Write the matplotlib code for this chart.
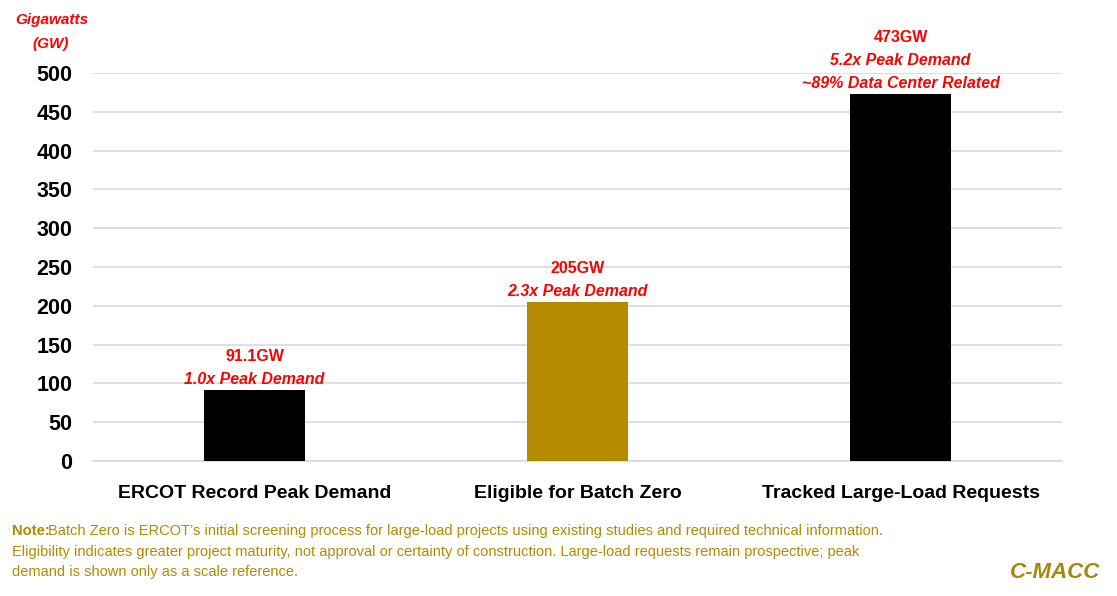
import matplotlib
matplotlib.use("Agg")
import matplotlib.pyplot as plt

# data
categories = ["ERCOT Record Peak Demand", "Eligible for Batch Zero", "Tracked Large-Load Requests"]
values = [91.1, 205, 473]
value_labels = ["91.1GW", "205GW", "473GW"]
notes = [["1.0x Peak Demand"], ["2.3x Peak Demand"], ["5.2x Peak Demand", "~89% Data Center Related"]]
bar_colors = ["#000000", "#B38A00", "#000000"]
yticks = [0, 50, 100, 150, 200, 250, 300, 350, 400, 450, 500]

plt.rcParams['font.family'] = ['Liberation Sans', 'DejaVu Sans']

fig = plt.figure(figsize=(11.17, 5.96), dpi=100)
ax = fig.add_axes([93/1117, 1-461/596, (1062-93)/1117, (461-73)/596])

x = list(range(len(categories)))
ax.bar(x, values, width=0.31, color=bar_colors, zorder=3)
ax.set_xlim(-0.5, 2.5)
ax.set_ylim(0, 500)
ax.set_yticks(yticks)
ax.set_yticklabels([str(t) for t in yticks], fontsize=15.5, fontweight='bold')
ax.set_xticks(x)
ax.set_xticklabels(categories, fontsize=14, fontweight='bold')
ax.tick_params(axis='both', length=0)
ax.tick_params(axis='y', pad=15)
ax.tick_params(axis='x', pad=17)
ax.grid(axis='y', color='#d9d9d9', linewidth=1.2, zorder=0)
for s in ['top', 'right', 'left']:
    ax.spines[s].set_visible(False)
ax.spines['bottom'].set_color('#d9d9d9')
ax.spines['bottom'].set_linewidth(1.2)

red = '#FF0000'
for i, v in enumerate(values):
    lines = [value_labels[i]] + notes[i]
    n = len(lines)
    for k, line in enumerate(lines):
        offset = 7.8 + (n - 1 - k) * 16.3
        ax.annotate(line, (i, v), xytext=(0, offset), textcoords='offset points',
                    ha='center', va='center', color=red, fontsize=11.5, fontweight='bold',
                    fontstyle='normal' if k == 0 else 'italic', zorder=4)

fig.text(52/1117, 1-20/596, "Gigawatts", color=red, fontsize=11, fontweight='bold',
         fontstyle='italic', ha='center', va='center')
fig.text(51/1117, 1-44/596, "(GW)", color=red, fontsize=11, fontweight='bold',
         fontstyle='italic', ha='center', va='center')

gold = '#B38A00'
note_font = ['Liberation Sans Narrow', 'Liberation Sans']
note_lines = [
    "Batch Zero is ERCOT\u2019s initial screening process for large-load projects using existing studies and required technical information.",
    "Eligibility indicates greater project maturity, not approval or certainty of construction. Large-load requests remain prospective; peak",
    "demand is shown only as a scale reference.",
]
fig.text(12/1117, 1-531/596, "Note:", color=gold, fontsize=10.6, fontweight='bold', va='center',
         family=note_font)
fig.text(48/1117, 1-531/596, note_lines[0], color=gold, fontsize=10.5, va='center',
         family=note_font)
fig.text(12/1117, 1-552/596, note_lines[1], color=gold, fontsize=10.5, va='center',
         family=note_font)
fig.text(12/1117, 1-572/596, note_lines[2], color=gold, fontsize=10.5, va='center',
         family=note_font)
fig.text(1100/1117, 1-573/596, "C-MACC", color='#A8860A', fontsize=16, fontweight='bold',
         fontstyle='italic', ha='right', va='center')

fig.savefig("out.png", dpi=100)
